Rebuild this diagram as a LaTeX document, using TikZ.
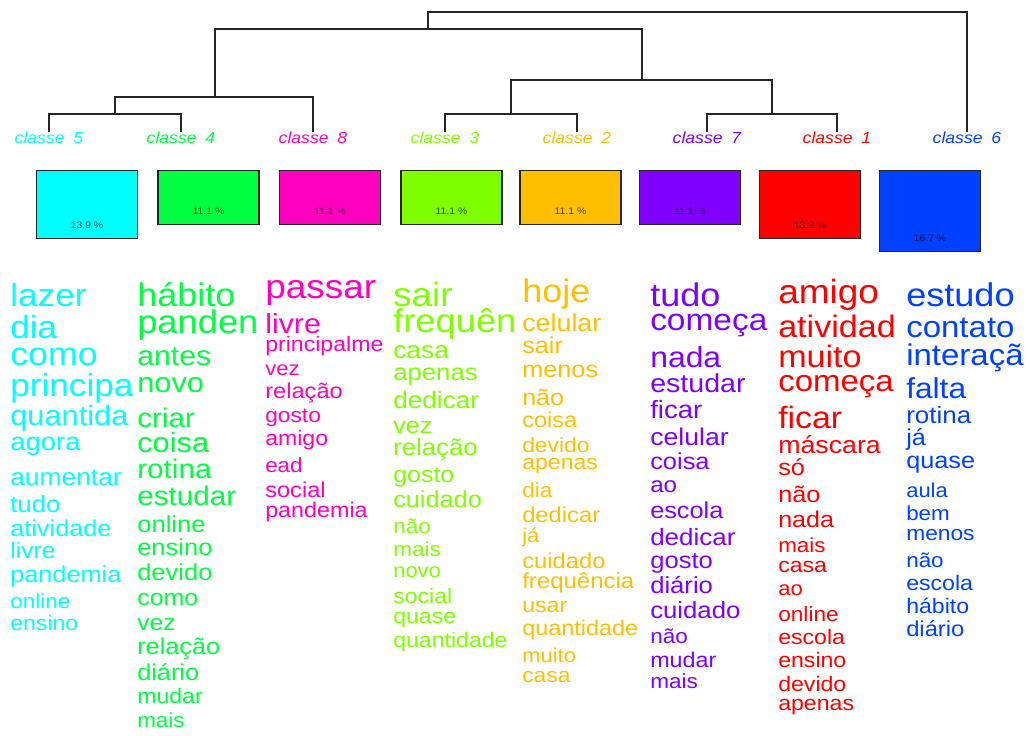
\documentclass[tikz,border=0pt]{standalone}
\usepackage{fontspec}
\setmainfont{Liberation Sans}
\newfontfamily\wordfont[FakeStretch=1.1]{Liberation Sans}
% class colours
\definecolor{cl1}{HTML}{FF0000}
\definecolor{cl2}{HTML}{FFBF00}
\definecolor{cl3}{HTML}{80FF00}
\definecolor{cl4}{HTML}{00FF40}
\definecolor{cl5}{HTML}{00FFFF}
\definecolor{cl6}{HTML}{0040FF}
\definecolor{cl7}{HTML}{8000FF}
\definecolor{cl8}{HTML}{FF00BF}
% word size given in pixels
\newcommand\wsize[1]{\wordfont\fontsize{\fpeval{0.75*#1}}{\fpeval{0.9*#1}}\selectfont}
\begin{document}
\begin{tikzpicture}[x=0.75pt,y=-0.75pt,
	tree/.style={draw=black!85,line width=1pt},
	box/.style={draw=black!85,line width=0.9pt,anchor=north,minimum width=75.75pt,inner sep=0pt},
	pct/.style={font=\wsize{9.5},inner sep=0pt},
	cls/.style={font=\wsize{16}\itshape,anchor=base,inner sep=0pt},
	word/.style={anchor=base west,inner sep=0pt}]
	\useasboundingbox (0,0) rectangle (1030,735);
	% dendrogram
	\coordinate (t5) at (49,132); \coordinate (t4) at (181,132); \coordinate (t8) at (313,132); \coordinate (t3) at (445,132);
	\coordinate (t2) at (577,132); \coordinate (t7) at (707,132); \coordinate (t1) at (837,132); \coordinate (t6) at (967,132);
	\coordinate (m54) at (115,114); \coordinate (m548) at (215,97); \coordinate (m32) at (511,114); \coordinate (m71) at (772,114);
	\coordinate (m3271) at (642,80); \coordinate (mleft) at (428,29); \coordinate (root) at (697,12);
	\draw[tree](t5)|-(m54)-|(t4);
	\draw[tree](m54)|-(m548)-|(t8);
	\draw[tree](t3)|-(m32)-|(t2);
	\draw[tree](t7)|-(m71)-|(t1);
	\draw[tree](m32)|-(m3271)-|(m71);
	\draw[tree](m548)|-(mleft)-|(m3271);
	\draw[tree](mleft)|-(root)-|(t6);
	% class labels
	\foreach \c/\x in {5/49,4/181,8/313,3/445,2/577,7/707,1/837,6/967}
		\node[cls,text=cl\c](l\c)at(\x,143){classe\kern0.556em\c};
	% boxes
	\foreach \c/\x/\h/\p in {5/87/51/13.9,4/208.5/40.5/11.1,8/330/40.5/11.1,3/451.5/40.5/11.1,2/570.5/40.5/11.1,7/690/40.5/11.1,1/810/51/13.9,6/930/60.75/16.7}{
		\node[box,fill=cl\c,minimum height=\h pt](b\c)at(\x,170){};
		\node[pct,text=cl\c!35!black](p\c)at([yshift=10.5pt]b\c.south){\p\ \%};}
	% words, one column per class
	\foreach \by/\fz/\wrd [count=\i] in {306/32/lazer,338/32/dia,365/32.5/como,396/32/principa,425/28/quantida,450/25/agora,485/24/aumentar,512/23.5/tudo,536/23/atividade,558/22.5/livre,582/23/pandemia,608/20.5/online,630/21/ensino}
		\node[word,text=cl5,font=\wsize{\fz}](c5w\i)at(10,\by){\wrd};
	\foreach \by/\fz/\wrd [count=\i] in {306/32.7/hábito,333/33/panden,365/27.5/antes,392/28/novo,427/27/criar,452/28/coisa,478/27/rotina,505/27/estudar,532/23.3/online,555/23.2/ensino,580/23.2/devido,605/22.7/como,630/22.4/vez,654/23/relação,680/23/diário,703/21/mudar,727/20.4/mais}
		\node[word,text=cl4,font=\wsize{\fz}](c4w\i)at(137,\by){\wrd};
	\foreach \by/\fz/\wrd [count=\i] in {298/33.6/passar,333/27.6/livre,351/21/principalme,375/20/vez,398/21.5/relação,422/20.7/gosto,445/21/amigo,472/20.4/ead,497/21.5/social,517/21.2/pandemia}
		\node[word,text=cl8,font=\wsize{\fz}](c8w\i)at(265,\by){\wrd};
	\foreach \by/\fz/\wrd [count=\i] in {306/33.5/sair,332/33/frequên,358/24/casa,380/23.4/apenas,408/23.8/dedicar,433/22.9/vez,455/23.4/relação,482/22.7/gosto,507/23/cuidado,533/20.5/não,556/20.5/mais,577/20/novo,603/21/social,623/21/quase,647/21/quantidade}
		\node[word,text=cl3,font=\wsize{\fz}](c3w\i)at(393,\by){\wrd};
	\foreach \by/\fz/\wrd [count=\i] in {302/32.7/hoje,331/24.4/celular,353/23/sair,377/23/menos,405/22.8/não,427/21.4/coisa,452/20.8/devido,469/21/apenas,497/20.5/dia,522/21.6/dedicar,542/20/já,568/21.6/cuidado,588/21.8/frequência,612/21/usar,635/21.3/quantidade,662/20/muito,682/20.8/casa}
		\node[word,text=cl2,font=\wsize{\fz}](c2w\i)at(522,\by){\wrd};
	\foreach \by/\fz/\wrd [count=\i] in {306/32.7/tudo,330/30.4/começa,367/29/nada,392/26/estudar,418/25/ficar,445/24.2/celular,469/23.1/coisa,492/22/ao,518/23/escola,545/23.6/dedicar,568/23.3/gosto,593/23.3/diário,618/23.4/cuidado,643/20.5/não,667/21.2/mudar,688/20.5/mais}
		\node[word,text=cl7,font=\wsize{\fz}](c7w\i)at(650,\by){\wrd};
	\foreach \by/\fz/\wrd [count=\i] in {303/33.6/amigo,337/31/atividad,367/31/muito,391/30/começa,428/30.8/ficar,453/24.3/máscara,475/23/só,502/23/não,527/22.8/nada,552/20.4/mais,572/21/casa,595/20/ao,621/20.6/online,644/21/escola,667/21/ensino,691/21/devido,710/21/apenas}
		\node[word,text=cl1,font=\wsize{\fz}](c1w\i)at(778,\by){\wrd};
	\foreach \by/\fz/\wrd [count=\i] in {306/32.8/estudo,337/30/contato,365/30/interaçã,398/28.8/falta,423/23.6/rotina,445/23/já,468/23/quase,497/20/aula,520/20.3/bem,540/20.7/menos,567/20.4/não,590/21/escola,613/21/hábito,636/21.6/diário}
		\node[word,text=cl6,font=\wsize{\fz}](c6w\i)at(906,\by){\wrd};
\end{tikzpicture}
\end{document}
